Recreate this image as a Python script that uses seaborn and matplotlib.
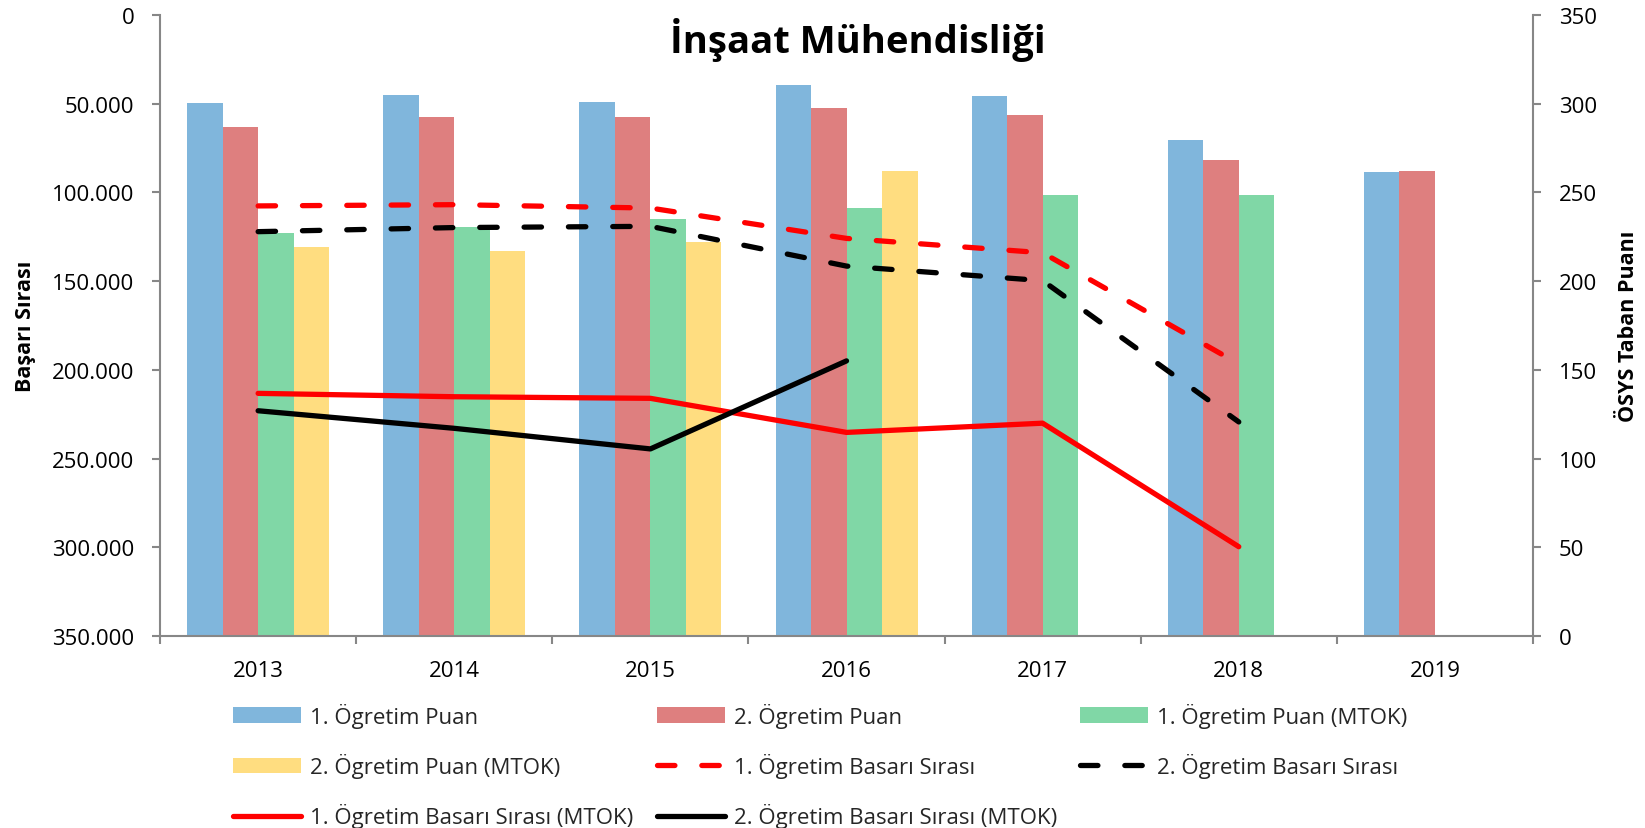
import matplotlib
matplotlib.use('Agg')
import matplotlib.pyplot as plt
from matplotlib.ticker import FuncFormatter, FixedLocator
import seaborn as sns
import numpy as np
import pandas as pd

sns.set_theme(style='white')
plt.rcParams['font.family'] = ['Open Sans', 'DejaVu Sans']

GRAY = '#878787'

years = ['2013', '2014', '2015', '2016', '2017', '2018', '2019']

# bar series (right axis, ÖSYS Taban Puanı)
bar_names = ['1. Ögretim Puan', '2. Ögretim Puan', '1. Ögretim Puan (MTOK)', '2. Ögretim Puan (MTOK)']
bar_colors = ['#80B6DC', '#DE7F7F', '#80D7A6', '#FFDD80']
puan_1 = [300.4, 304.6, 300.6, 310.2, 304.1, 279.3, 261.5]
puan_2 = [286.6, 292.2, 292.4, 297.6, 293.3, 268.1, 261.7]
puan_1_mtok = [227.1, 230.4, 235.1, 241.4, 248.6, 248.2, np.nan]
puan_2_mtok = [219.4, 217.0, 222.0, 261.7, np.nan, np.nan, np.nan]

# line series (left axis, Başarı Sırası, inverted)
line_names = ['1. Ögretim Basarı Sırası', '2. Ögretim Basarı Sırası',
              '1. Ögretim Basarı Sırası (MTOK)', '2. Ögretim Basarı Sırası (MTOK)']
line_colors = ['#FF0000', '#000000', '#FF0000', '#000000']
line_dashed = [True, True, False, False]
sira_1 = [107700, 107000, 108900, 126000, 134100, 196700, np.nan]
sira_2 = [122200, 119900, 119200, 141600, 149800, 229400, np.nan]
sira_1_mtok = [213300, 215200, 216100, 235300, 230100, 299700, np.nan]
sira_2_mtok = [223100, 233000, 244600, 195000, np.nan, np.nan, np.nan]

bar_df = pd.DataFrame({
    'Yil': years * 4,
    'Puan': puan_1 + puan_2 + puan_1_mtok + puan_2_mtok,
    'Seri': [n for n in bar_names for _ in years],
})

fig, ax = plt.subplots(figsize=(16.45, 8.29))
fig.subplots_adjust(left=0.0973, right=0.9319, bottom=0.2316, top=0.981)
ax2 = ax.twinx()

sns.barplot(data=bar_df, x='Yil', y='Puan', hue='Seri', hue_order=bar_names,
            palette=bar_colors, width=0.724, saturation=1, errorbar=None,
            ax=ax2, linewidth=0)
bar_handles, bar_labels = ax2.get_legend_handles_labels()
if ax2.get_legend() is not None:
    ax2.get_legend().remove()

xpos = np.arange(len(years))
for name, vals, col, dashed in zip(line_names, [sira_1, sira_2, sira_1_mtok, sira_2_mtok],
                                   line_colors, line_dashed):
    ls = (0, (3.3, 5.1)) if dashed else '-'
    sns.lineplot(x=xpos, y=vals, color=col, linewidth=3.8, linestyle=ls,
                 label=name, ax=ax)
for ln in ax.get_lines():
    ln.set_dash_capstyle('round')
    ln.set_solid_capstyle('round')
line_handles, line_labels = ax.get_legend_handles_labels()
if ax.get_legend() is not None:
    ax.get_legend().remove()

# lines above bars
ax.set_zorder(ax2.get_zorder() + 1)
ax.patch.set_visible(False)

ax.set_xlim(-0.5, len(years) - 0.5)
ax.set_ylim(350000, 0)
ax2.set_ylim(0, 350)

ax.yaxis.set_major_locator(FixedLocator(np.arange(0, 350001, 50000)))
ax.yaxis.set_major_formatter(FuncFormatter(lambda v, p: f'{int(v):,}'.replace(',', '.')))
ax2.yaxis.set_major_locator(FixedLocator(np.arange(0, 351, 50)))

ax.set_xticks(xpos)
ax.set_xticklabels(years)
ax.set_xticks(np.arange(-0.5, len(years)), minor=True)
ax.tick_params(axis='x', which='major', length=0, pad=17, labelsize=16, colors='black')
ax.tick_params(axis='x', which='minor', length=6, width=1.5, color=GRAY, direction='out', bottom=True)
ax.tick_params(axis='y', which='major', left=True, length=6, width=1.5, color=GRAY,
               direction='out', pad=12.5, labelsize=16, labelcolor='black')
ax2.tick_params(axis='y', which='major', right=True, length=6, width=1.5, color=GRAY,
                direction='out', pad=12.5, labelsize=16, labelcolor='black')
ax2.set_xlabel('')
ax.set_xlabel('')

for a in (ax, ax2):
    for side, sp in a.spines.items():
        sp.set_color(GRAY)
        sp.set_linewidth(1.5)
    a.spines['top'].set_visible(False)
ax.spines['right'].set_visible(False)
ax2.spines['left'].set_visible(False)
ax2.spines['bottom'].set_visible(False)

ax.set_ylabel('Başarı Sırası', fontsize=15.5, fontweight='bold', color='black')
ax.yaxis.set_label_coords(-0.090, 0.5)
ax2.set_ylabel('ÖSYS Taban Puanı', fontsize=15.5, fontweight='bold', color='black')
ax2.yaxis.set_label_coords(1.062, 0.5)

fig.text(0.5216, 0.936, 'İnşaat Mühendisliği', ha='center', va='baseline',
         fontsize=27.5, fontweight='bold', color='black')

# legend: three columns, column-major like the original
handles = bar_handles + line_handles
labels = bar_labels + line_labels
order = [[0, 3, 6], [1, 4, 7], [2, 5]]
col_x = [0.1416, 0.3994, 0.6565]
for idx, cx in zip(order, col_x):
    fig.legend([handles[i] for i in idx], [labels[i] for i in idx],
               loc='upper left', bbox_to_anchor=(cx, 0.151), frameon=False,
               borderpad=0, borderaxespad=0, handlelength=3.06, handleheight=0.68,
               handletextpad=0.4, labelspacing=1.14, fontsize=16)

fig.savefig('out.png', dpi=100)
